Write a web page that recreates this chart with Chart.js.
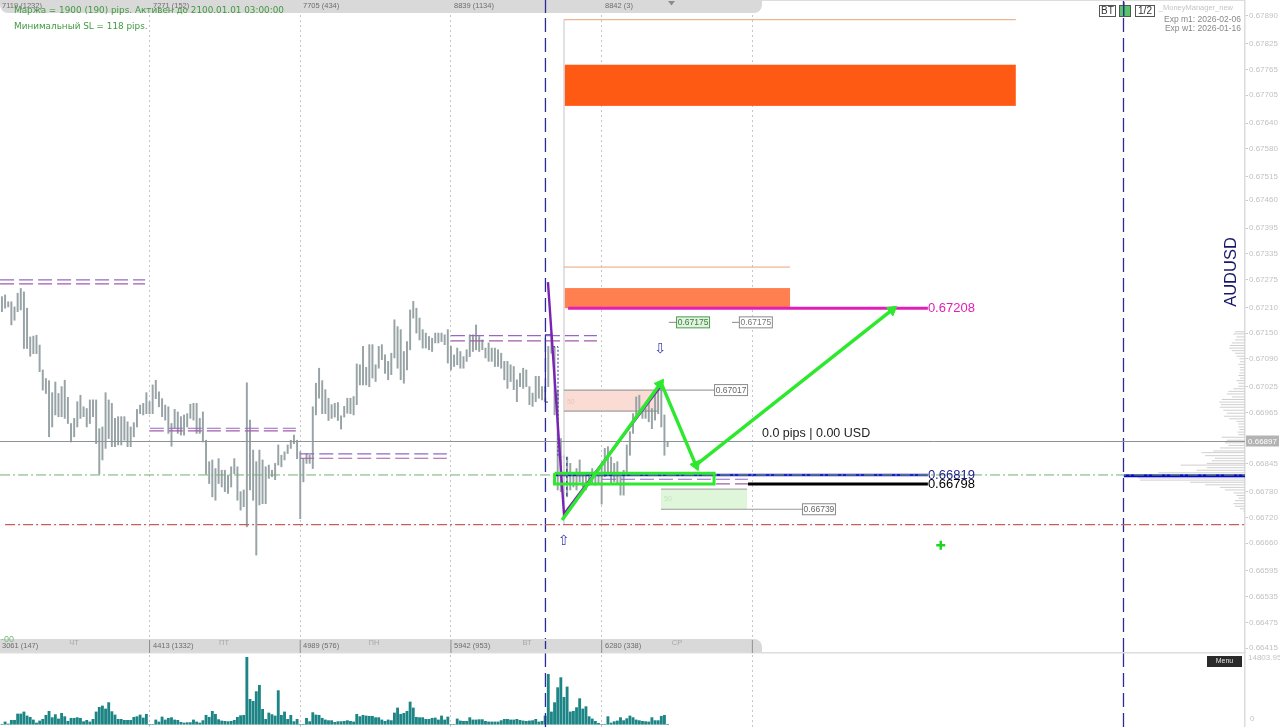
<!DOCTYPE html>
<html>
<head>
<meta charset="utf-8">
<style>
  html, body { margin: 0; padding: 0; background: #fff; overflow: hidden; }
  canvas { display: block; }
</style>
<script src="https://cdn.jsdelivr.net/npm/chart.js@4/dist/chart.umd.js"></script>
</head>
<body>
<canvas id="chart" width="1280" height="727"></canvas>
<script>
// prices are in points (1e-5), bars are numbered from 1 at the left edge
const highs = [
  67235,67239,67223,67223,67211,67243,67254,67246,67208,67141,67143,67145,67122,67064,67044,67039,67011,67036,67009,67025,
  67040,67000,66939,66951,66990,67005,66978,66974,66994,66994,66994,66927,66931,67011,66994,66986,66951,66955,66955,66955,
  66943,66931,66941,66972,66982,66986,67011,66990,67029,67040,67013,66997,66982,66978,66939,66972,66966,66955,66959,66962,
  66984,66986,66986,66951,66966,66900,66850,66854,66834,66857,66830,66830,66819,66838,66857,66838,66780,66784,67034,66947,
  66877,66850,66877,66854,66838,66842,66830,66846,66889,66865,66873,66889,66900,66912,66900,66873,66857,66869,66865,66978,
  67033,67068,67039,67018,66998,66983,66986,66988,66957,66979,66998,66998,67002,67078,67076,67119,67070,67123,67123,67076,
  67119,67123,67099,67084,67103,67181,67165,67158,67107,67130,67204,67224,67208,67185,67158,67150,67142,67138,67150,67150,
  67150,67146,67158,67119,67099,67115,67107,67095,67111,67146,67146,67169,67142,67134,67115,67127,67115,67115,67111,67103,
  67084,67084,67076,67072,67041,67056,67068,67064,67025,67010,67049,67049,67025,67025,67119,67150,67118,67017,66904,66865,
  66861,66846,66822,66834,66854,66822,66818,66822,66834,66826,66822,66838,66881,66885,66861,66846,66850,66815,66830,66889,
  66920,66962,67001,67005,66978,66974,66990,66974,67005,67025,67033,66959,66896
];
const lows = [
  67200,67208,67211,67169,67180,67200,67204,67114,67114,67096,67102,67102,67060,67017,67009,66908,66931,66959,66955,66955,
  66951,66939,66896,66908,66931,66951,66955,66931,66939,66955,66892,66821,66854,66881,66904,66885,66885,66889,66889,66900,
  66885,66885,66908,66931,66962,66959,66962,66962,66962,66997,66978,66955,66947,66916,66886,66927,66916,66912,66912,66931,
  66951,66947,66916,66916,66896,66821,66799,66768,66760,66799,66791,66780,66776,66791,66822,66760,66737,66745,66698,66784,
  66760,66632,66749,66752,66752,66811,66815,66808,66842,66838,66854,66869,66881,66892,66857,66717,66803,66846,66846,66834,
  66959,66998,66962,66962,66946,66951,66954,66946,66926,66954,66963,66962,66959,66983,67029,67029,67029,67025,67045,67037,
  67068,67088,67056,67041,67053,67092,67068,67041,67033,67064,67111,67185,67150,67134,67115,67115,67111,67107,67127,67127,
  67130,67123,67080,67064,67072,67076,67068,67068,67084,67095,67107,67111,67107,67111,67092,67084,67084,67072,67072,67068,
  67041,67021,67037,67018,66990,67025,67021,67025,66983,66979,66990,66998,66994,66990,67025,67103,66959,66784,66780,66729,
  66768,66784,66791,66784,66803,66791,66784,66795,66799,66795,66799,66751,66815,66819,66799,66803,66799,66772,66772,66822,
  66865,66916,66959,66959,66951,66951,66943,66927,66947,66962,66931,66865,66885
];
const volumes = [
  0,520,60,880,880,2280,2280,2730,1840,1550,960,290,740,1100,1990,2870,1470,2140,1180,2430,
  1690,660,1330,1330,1470,1330,590,880,520,1100,2730,3760,4050,3390,4790,2800,2060,1100,1100,880,
  880,880,1550,1690,2060,1400,2210,0,0,960,520,1620,960,1330,1470,960,880,440,290,370,
  370,960,520,290,810,1990,1550,2870,2210,1030,740,660,590,660,880,1550,1910,1990,14800,5520,
  5080,7220,8620,3310,1100,2500,2140,1840,7440,1990,2730,1100,1990,590,1100,0,0,1330,590,2580,
  2060,1990,1330,960,810,810,440,590,590,660,810,660,520,2210,1690,1990,1840,1770,1770,1470,
  1470,960,660,960,810,2500,3610,2210,2430,2870,4930,3610,1550,1470,1470,1100,1100,1330,1400,960,
  1840,960,1620,0,0,1180,740,660,660,1470,960,960,1030,1030,660,520,520,520,520,810,
  1100,1100,960,960,1100,880,740,660,740,810,1100,520,660,1840,11050,2730,4790,8100,10310,5970,
  8250,2730,2870,3680,5670,3390,3900,1690,1180,660,220,0,0,1690,290,590,740,1470,810,1250,
  1840,1470,960,810,660,590,520,1470,810,810,1770,1990,0
];
const priceTicks = [67890,67825,67765,67705,67640,67580,67515,67460,67395,67335,67275,67210,67150,67090,67025,66965,66845,66780,66720,66660,66595,66535,66475,66415];
const dayTicks = [48,96,144,192,240];
const topStripLabels = ["7119 (1232)","7271 (152)","7705 (434)","8839 (1134)","8842 (3)"];
const bottomStripLabels = ["3061 (147)","4413 (1332)","4989 (576)","5942 (953)","6280 (338)"];
const dayNames = ["ЧТ","ПТ","ПН","ВТ","СР"];

// horizontal levels: price, first bar, last bar
const levelPrice = [66897,66819,66703,67208,66819,66798,67017,66968,66786,66739,67881,67304,66817,67175,67175,
  67274,67265,66928,66922,66868,66858,67144,67132,66809,66798];
const levelFrom = [0.4,0.4,2,181.3,176.8,238.6,180,180,210.9,210.9,180,180,358.3,213.4,233.5,
  0.4,0.4,48.1,48.1,96,96,144,144,192.1,192.1];
const levelTo = [396.9,396.9,396.9,295.9,295.9,295.9,227.8,209.9,238.3,255.8,323.9,252,396.9,215.7,235.7,
  46.6,46.6,94.6,94.6,142.7,142.7,190.5,190.5,238.6,238.6];

// zones: first bar, last bar, low, high
const zoneFrom = [180,180,180,210.9];
const zoneTo = [323.9,252,209.9,238.3];
const zoneLow = [67680,67208,66968,66739];
const zoneHigh = [67776,67255,67017,66786];

// zigzag and the drawn arrows
const zigzagBars = [174.9,180,210.6];
const zigzagPrices = [67269,66728,67024];
const arrowBars = [[179.4,210.6],[211.2,222],[222,284.5]];
const arrowPrices = [[66714,67031],[67029,66842],[66842,67204]];
const boxBars = [177,227.8,227.8,177,177];
const boxPrices = [66823,66823,66798,66798,66823];

// market profile on the right
const profilePrices = [67153,67148,67141,67134,67127,67121,67115,67109,67103,67096,67090,67083,67077,67070,67064,67057,67051,67045,67039,67033,67026,67020,67014,67008,67001,66995,66989,66983,66977,66970,66963,66956,66950,66944,66938,66931,66925,66919,66913,66907,66900,66894,66888,66882,66875,66871,66864,66858,66852,66846,66842,66836,66830,66824,66818,66812,66807,66802,66796,66790,66784,66777,66771,66765,66759,66752,66746,66740,66734];
const profileSizes = [3.2,3.7,2.7,3.2,4.2,4.8,5,4.2,3.2,2.7,1.8,1.6,2.1,1.6,1.6,1.8,2.1,1.6,2.7,2.1,2.1,3.7,5.3,5.8,4.2,7.4,8.2,7.7,8,6.9,5.8,6.7,5,2.7,2.1,2.1,1.8,2.4,2.1,7.4,5.8,6.4,5.3,8,10.1,13.8,12.7,9.6,10.6,12.2,20.5,12.2,15.4,27.6,38.2,34,33.4,17.5,12.7,8,6.4,3.7,2.7,2.1,3.2,3.7,3.2,1.6,0.5];

const barsX = highs.map((h, i) => i + 1);
const priceMin = 66406, priceMax = 67927;
const xMin = 0.38, xMax = 396.9;
const volMin = -600, volMax = 15975;

function line(xs, ys, color, width, dash, extra) {
  return Object.assign({
    type: "line",
    data: xs.map((x, i) => ({ x: x, y: ys[i] })),
    borderColor: color,
    backgroundColor: color,
    borderWidth: width,
    borderDash: dash || [],
    pointRadius: 0,
    order: 5,
    yAxisID: "y"
  }, extra || {});
}

const levelStyles = [
  ["#8b9396",1],["#72ad72",1,[10,3,2,3]],["#c2605c",1.2,[10,3,2,3]],["#e11fb6",3],["#1f1fc4",2.5],["#000000",3],
  ["#8a8a8a",1],["#8a8a8a",1],["#9a9a9a",1],["#9a9a9a",1],["#e9a27a",1],["#e9a27a",1],["#0a0ac4",3],["#8a8a8a",1],["#8a8a8a",1]
];
const purpleTop = "#a55aa8", purpleLow = "#8f6bc4";

const datasets = [];

levelPrice.forEach((p, i) => {
  let st = levelStyles[i] || [(i % 2) ? purpleLow : purpleTop, 1.2, [14, 5]];
  datasets.push(line([levelFrom[i], levelTo[i]], [p, p], st[0], st[1], st[2]));
});

// vertical session marks, both panes
[174.1, 358.2].forEach(b => {
  datasets.push(line([b, b], [priceMin, priceMax], "#2b2b96", 1.3, [14, 6]));
  datasets.push(line([b, b], [volMin, volMax], "#2b2b96", 1.3, [14, 6], { yAxisID: "v", order: 2 }));
});
datasets.push(line([180, 180], [67881, 66703], "#dddddd", 1));

// small navy brackets next to the session line
datasets.push(line([176.2,174.1,174.1,174.9], [67146,67146,66989,66989], "#2b2b96", 1));
datasets.push(line([176.5,178.1,178.1,180.3], [67118,67118,66861,66861], "#2b2b96", 1, [2,2]));
datasets.push(line([180.9,180.9], [66861,66767], "#2b2b96", 1, [3,3]));

profilePrices.forEach((p, i) => {
  datasets.push(line([xMax, xMax - profileSizes[i]], [p, p], "#cfcfcf", 1, [], { order: 8 }));
});

datasets.push(line(zigzagBars, zigzagPrices, "#7b22b5", 2.4, [], { order: 3 }));
datasets.push(line(boxBars, boxPrices, "#2de82d", 3, [], { order: 1, tension: 0.0001 }));

const arrowTurn = [36, 157, 52];
arrowBars.forEach((xs, i) => {
  datasets.push(line(xs, arrowPrices[i], "#2de82d", 3.4, [], {
    order: 1,
    pointStyle: "triangle",
    pointRadius: [0, 6],
    pointBorderWidth: 1,
    pointRotation: [0, arrowTurn[i]]
  }));
});

// the green plus under the chart
datasets.push(line([300], [66655], "#2de82d", 2.5, [], {
  order: 1, pointStyle: "cross", pointRadius: 4.5, pointBorderWidth: 2.5, pointBorderColor: "#22d422"
}));

datasets.push({
  type: "bar",
  data: barsX.map((x, i) => ({ x: x, y: [lows[i], highs[i]] })),
  backgroundColor: "#98a3a6",
  barThickness: 1.3,
  grouped: false,
  order: 10,
  yAxisID: "y"
});
datasets.push({
  type: "bar",
  data: barsX.map((x, i) => ({ x: x, y: volumes[i] })),
  backgroundColor: "#1d8585",
  barThickness: 2.2,
  grouped: false,
  order: 10,
  yAxisID: "v"
});

function text(c, str, x, y, font, color, align) {
  c.font = font;
  c.fillStyle = color;
  c.textAlign = align || "left";
  c.textBaseline = "middle";
  c.fillText(str, x, y);
}

function priceBox(c, str, x, y, border, fill, color) {
  c.fillStyle = fill;
  c.fillRect(x + 0.5, y - 5.5, 33, 11);
  c.strokeStyle = border;
  c.lineWidth = 1;
  c.strokeRect(x + 0.5, y - 5.5, 33, 11);
  text(c, str, x + 17, y + 0.5, "8.5px 'Liberation Sans'", color, "center");
}

function tagBox(c, str, x, y, w) {
  c.strokeStyle = "#555";
  c.lineWidth = 1;
  c.strokeRect(x + 0.5, y + 0.5, w, 11);
  text(c, str, x + w / 2 + 0.5, y + 6.5, "10px 'Liberation Sans'", "#333", "center");
}

const overlay = {
  id: "overlay",
  beforeDatasetsDraw(chart) {
    const c = chart.ctx, X = chart.scales.x, Y = chart.scales.y;
    const colors = ["#ff5a14", "#ff7f50", "#fadcd5", "#dff6da"];
    c.save();
    zoneFrom.forEach((z, i) => {
      const x0 = X.getPixelForValue(z), x1 = X.getPixelForValue(zoneTo[i]);
      const y0 = Y.getPixelForValue(zoneHigh[i]), y1 = Y.getPixelForValue(zoneLow[i]);
      c.fillStyle = colors[i];
      c.fillRect(x0, y0, x1 - x0, y1 - y0);
    });
    text(c, "50", X.getPixelForValue(180) + 3, Y.getPixelForValue(66990), "7px 'Liberation Sans'", "#e8c4bc");
    text(c, "50", X.getPixelForValue(210.9) + 3, Y.getPixelForValue(66762), "7px 'Liberation Sans'", "#c4e4bf");
    c.restore();
  },
  afterDatasetsDraw(chart) {
    const c = chart.ctx, X = chart.scales.x, Y = chart.scales.y;
    c.save();

    // grey strips at the top and at the bottom of the price pane
    c.fillStyle = "#d9d9d9";
    c.beginPath();
    c.roundRect(0, -8, 762, 21, 8);
    c.fill();
    c.beginPath();
    c.roundRect(0, 639, 762, 14, [0, 8, 0, 0]);
    c.fill();
    c.fillStyle = "#dddddd";
    c.fillRect(0, 652, 1245, 1.5);
    c.fillRect(762, 0, 483, 1);

    dayTicks.forEach(d => {
      const px = X.getPixelForValue(d);
      c.fillStyle = "#8f8f8f";
      c.fillRect(px - 0.5, 640, 1, 13);
    });
    [2, 153, 303, 454, 605].forEach((x, i) => {
      text(c, topStripLabels[i], x, 6, "7.5px 'Liberation Sans'", "#6d6d6d");
      text(c, bottomStripLabels[i], x, 646, "7.5px 'Liberation Sans'", "#6d6d6d");
    });
    [74, 224, 374, 527, 677].forEach((x, i) => {
      text(c, dayNames[i], x, 643, "7.5px 'Liberation Sans'", "#a8a8a8", "center");
    });
    text(c, "-00", 1, 640, "9px 'Liberation Sans'", "#78b878");
    c.fillStyle = "#8c8c8c";
    c.beginPath();
    c.moveTo(668, 1); c.lineTo(675, 1); c.lineTo(671.5, 5.5);
    c.fill();

    // session mark through the strips
    const s = X.getPixelForValue(174.1);
    c.fillStyle = "#2b2b96";
    c.fillRect(s - 0.6, 0, 1.3, 13);
    c.fillRect(s - 0.6, 641, 1.3, 8);

    text(c, "Маржа = 1900 (190) pips. Активен до 2100.01.01 03:00:00", 14, 11, "8.85px 'DejaVu Sans'", "#3f9a3f");
    text(c, "Минимальный SL = 118 pips.", 14, 27, "8.85px 'DejaVu Sans'", "#3f9a3f");

    // level labels, hung on the scales
    const lx = X.getPixelForValue(295.9);
    text(c, "0.67208", lx, Y.getPixelForValue(67208), "13px 'Liberation Sans'", "#e11fb6");
    text(c, "0.66819", lx, Y.getPixelForValue(66819), "13px 'Liberation Sans'", "#1f1f8c");
    text(c, "0.66798", lx, Y.getPixelForValue(66798), "13px 'Liberation Sans'", "#000000");
    text(c, "0.0 pips | 0.00 USD", 762, 434, "12.5px 'Liberation Sans'", "#222222");

    priceBox(c, "0.67175", X.getPixelForValue(215.7), Y.getPixelForValue(67175), "#4f9a4f", "#dff3df", "#3c7a3c");
    priceBox(c, "0.67175", X.getPixelForValue(235.7), Y.getPixelForValue(67175), "#8a8a8a", "#ffffff", "#777777");
    priceBox(c, "0.67017", X.getPixelForValue(227.8), Y.getPixelForValue(67017), "#8a8a8a", "#ffffff", "#666666");
    priceBox(c, "0.66739", X.getPixelForValue(255.8), Y.getPixelForValue(66739), "#8a8a8a", "#ffffff", "#666666");

    text(c, "⇧", 563.5, 541, "14px 'DejaVu Sans'", "#3c3cab", "center");
    text(c, "⇩", 660, 349, "14px 'DejaVu Sans'", "#3c3cab", "center");

    // symbol name
    c.save();
    c.translate(1231, 272);
    c.rotate(-Math.PI / 2);
    text(c, "AUDUSD", 0, 0, "16.5px 'Liberation Sans'", "#17176e", "center");
    c.restore();

    // top right panel
    tagBox(c, "BT", 1099, 5, 16);
    c.fillStyle = "#58c46a";
    c.fillRect(1119, 5, 11, 11);
    c.strokeStyle = "#555";
    c.strokeRect(1119.5, 5.5, 11, 11);
    c.fillStyle = "#2b2b96";
    c.fillRect(1123, 2, 1.5, 14);
    tagBox(c, "1/2", 1135, 5, 19);
    text(c, "_MoneyManager_new", 1233, 8, "7.5px 'Liberation Sans'", "#c4c4c4", "right");
    text(c, "Exp m1: 2026-02-06", 1241, 20, "8.5px 'Liberation Sans'", "#888888", "right");
    text(c, "Exp w1: 2026-01-16", 1241, 29, "8.5px 'Liberation Sans'", "#888888", "right");

    // current price tag
    c.fillStyle = "#b3b3b3";
    c.fillRect(1246, 435.5, 33, 11);
    text(c, "0.66897", 1262.5, 441.5, "8px 'Liberation Sans'", "#ffffff", "center");

    // volume pane furniture
    c.fillStyle = "#2a2a2a";
    c.fillRect(1207, 656, 35, 11);
    text(c, "Menu", 1224.5, 661.5, "7px 'Liberation Sans'", "#e0e0e0", "center");
    text(c, "14803.95", 1248, 658, "8px 'Liberation Sans'", "#c4c4c4");
    text(c, "0", 1250, 719, "8px 'Liberation Sans'", "#c4c4c4");
    c.restore();
  }
};

// keep the panes flush with the page, no room for half a tick label
function fitRightAxis(scale) {
  scale.width = 35;
  scale.paddingTop = 0;
  scale.paddingBottom = 0;
}

new Chart(document.getElementById("chart"), {
  type: "bar",
  data: { datasets: datasets },
  plugins: [overlay],
  options: {
    responsive: false,
    animation: false,
    events: [],
    layout: { padding: 0, autoPadding: false },
    plugins: { legend: { display: false }, tooltip: { enabled: false } },
    scales: {
      x: {
        type: "linear",
        offset: false,
        min: xMin,
        max: xMax,
        afterBuildTicks(scale) { scale.ticks = dayTicks.map(v => ({ value: v })); },
        afterFit(scale) { scale.height = 0; },
        ticks: { display: false },
        border: { display: false, dash: [2, 3] },
        grid: { offset: false, color: "#c6c6c6", drawTicks: false }
      },
      y: {
        position: "right",
        stack: "panes",
        stackWeight: 652,
        min: priceMin,
        max: priceMax,
        afterFit: fitRightAxis,
        afterBuildTicks(scale) { scale.ticks = priceTicks.map(v => ({ value: v })); },
        border: { color: "#dcdcdc", width: 1.5 },
        grid: { drawOnChartArea: false, tickLength: 3, color: "#cccccc" },
        ticks: {
          autoSkip: false,
          padding: 1,
          color: "#c2c2c2",
          font: { family: "'Liberation Sans'", size: 8 },
          callback: v => (v / 1e5).toFixed(5)
        }
      },
      v: {
        position: "right",
        stack: "panes",
        stackWeight: 75,
        min: volMin,
        max: volMax,
        afterFit: fitRightAxis,
        border: { color: "#dcdcdc", width: 1.5 },
        grid: { drawOnChartArea: false, drawTicks: false },
        ticks: { display: false }
      }
    }
  }
});
</script>
</body>
</html>
